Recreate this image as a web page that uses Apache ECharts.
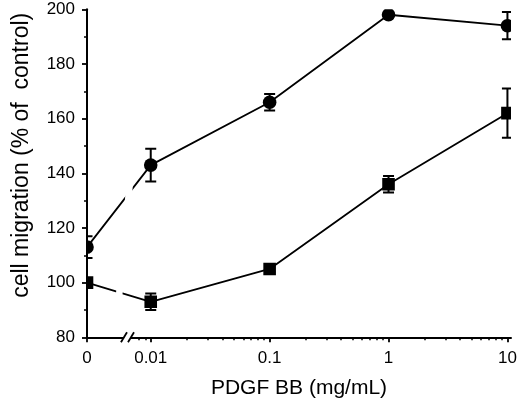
<!DOCTYPE html>
<html><head><meta charset="utf-8">
<script src="https://cdn.jsdelivr.net/npm/echarts@6/dist/echarts.min.js"></script>
<style>html,body{margin:0;padding:0;background:#fff}#c{width:520px;height:404px}</style>
</head><body><div id="c"></div>
<script>
// ---- data ----
const doseLabels = ['0', '0.01', '0.1', '1', '10'];
const doses = [0, 0.01, 0.1, 1, 10];
const circleMean = [113, 143, 166, 198, 194];
const circleErr = [4, 6, 3, 1, 5];
const squareMean = [100, 93, 105, 136, 162];
const squareErr = [1, 3, 1, 3, 9];
const minorDoses = [0.008, 0.009,
  0.02, 0.03, 0.04, 0.05, 0.06, 0.07, 0.08, 0.09,
  0.2, 0.3, 0.4, 0.5, 0.6, 0.7, 0.8, 0.9,
  2, 3, 4, 5, 6, 7, 8, 9];
const yMin = 80, yMax = 200, yStep = 20;

// ---- scale helpers (log axis with the 0 point placed before a break) ----
const ZERO_POS = -0.536;
const X_MAX = 3.03;
function pos(d) { return d === 0 ? ZERO_POS : Math.log10(d) + 2; }

const FONT = 'Liberation Sans, Arial, Helvetica, sans-serif';
const circleData = doses.map((d, i) => [pos(d), circleMean[i], circleErr[i]]);
const squareData = doses.map((d, i) => [pos(d), squareMean[i], squareErr[i]]);

function markerItem(shape) {
  return function (params, api) {
    const p = api.coord([api.value(0), api.value(1)]);
    if (shape === 'circle') {
      return { type: 'circle', shape: { cx: p[0], cy: p[1], r: 6.8 }, style: { fill: '#000' } };
    }
    return { type: 'rect', shape: { x: p[0] - 6.3, y: p[1] - 6.3, width: 12.6, height: 12.6 }, style: { fill: '#000' } };
  };
}
function errItem(params, api) {
  const x = api.value(0), m = api.value(1), e = api.value(2);
  const t = api.coord([x, m + e]), b = api.coord([x, m - e]);
  const c = 5.5, st = { stroke: '#000', lineWidth: 2 };
  return { type: 'group', children: [
    { type: 'line', shape: { x1: t[0], y1: t[1], x2: b[0], y2: b[1] }, style: st },
    { type: 'line', shape: { x1: t[0] - c, y1: t[1], x2: t[0] + c, y2: t[1] }, style: st },
    { type: 'line', shape: { x1: b[0] - c, y1: b[1], x2: b[0] + c, y2: b[1] }, style: st }
  ] };
}
// white slanted band that interrupts the connecting lines at the axis break
function bandItem(params, api) {
  const hi = api.coord([-0.1246, 160]), lo = api.coord([-0.289, 85]);
  const w = 3.3;
  return { type: 'polygon', shape: { points: [[hi[0] - w, hi[1]], [hi[0] + w, hi[1]], [lo[0] + w, lo[1]], [lo[0] - w, lo[1]]] },
    style: { fill: '#fff' } };
}
// axis break marks "//"
function breakItem(params, api) {
  const a = api.coord([-0.225, yMin]), b = api.coord([-0.166, yMin]);
  const st = { stroke: '#000', lineWidth: 1.8 };
  return { type: 'group', children: [
    { type: 'rect', shape: { x: a[0], y: a[1] - 2, width: b[0] - a[0], height: 4 }, style: { fill: '#fff' } },
    { type: 'line', shape: { x1: a[0] - 3, y1: a[1] + 5, x2: a[0] + 3, y2: a[1] - 5 }, style: st },
    { type: 'line', shape: { x1: b[0] - 3, y1: b[1] + 5, x2: b[0] + 3, y2: b[1] - 5 }, style: st }
  ] };
}

const chart = echarts.init(document.getElementById('c'), null, { renderer: 'canvas' });
chart.setOption({
  animation: false,
  backgroundColor: '#fff',
  grid: { left: 87, right: 9, top: 9.3, bottom: 66.7 },
  xAxis: [{
    type: 'value', min: ZERO_POS, max: X_MAX,
    name: 'PDGF BB (mg/mL)', nameLocation: 'middle', nameGap: 40,
    nameTextStyle: { fontFamily: FONT, fontSize: 21, color: '#000' },
    axisLine: { show: true, onZero: false, lineStyle: { color: '#000', width: 2 } },
    axisTick: { show: true, length: 5, lineStyle: { color: '#000', width: 1.8 }, customValues: doses.map(pos) },
    axisLabel: { fontFamily: FONT, fontSize: 17, color: '#000', margin: 13, customValues: doses.map(pos),
      formatter: function (v) { const i = doses.findIndex(d => Math.abs(pos(d) - v) < 1e-6); return i >= 0 ? doseLabels[i] : ''; } },
    splitLine: { show: false }
  }, {
    type: 'value', min: ZERO_POS, max: X_MAX, position: 'bottom',
    axisLine: { show: false, onZero: false },
    axisTick: { show: true, length: 3, lineStyle: { color: '#000', width: 1.5 }, customValues: minorDoses.map(pos) },
    axisLabel: { show: false },
    splitLine: { show: false }
  }],
  yAxis: {
    type: 'value', min: yMin, max: yMax, interval: yStep,
    name: 'cell migration (% of  control)', nameLocation: 'middle', nameGap: 54, nameRotate: 90,
    nameTextStyle: { fontFamily: FONT, fontSize: 23, color: '#000', padding: [0, 0, 0, 36] },
    axisLine: { show: true, onZero: false, lineStyle: { color: '#000', width: 2 } },
    axisTick: { show: true, length: 5, lineStyle: { color: '#000', width: 1.8 } },
    minorTick: { show: true, splitNumber: 2, length: 3, lineStyle: { color: '#000', width: 1.5 } },
    axisLabel: { fontFamily: FONT, fontSize: 17, color: '#000', margin: 12 },
    splitLine: { show: false }
  },
  series: [
    { type: 'line', data: circleData, showSymbol: false, z: 2, lineStyle: { color: '#000', width: 1.8 } },
    { type: 'line', data: squareData, showSymbol: false, z: 2, lineStyle: { color: '#000', width: 1.8 } },
    { type: 'custom', data: [[0, 0]], renderItem: bandItem, z: 3, clip: false, silent: true },
    { type: 'custom', data: circleData, renderItem: markerItem('circle'), z: 4, clip: true },
    { type: 'custom', data: squareData, renderItem: markerItem('rect'), z: 4, clip: true },
    { type: 'custom', data: circleData, renderItem: errItem, z: 5, clip: true },
    { type: 'custom', data: squareData, renderItem: errItem, z: 5, clip: true },
    { type: 'custom', data: [[0, 0]], renderItem: breakItem, z: 6, clip: false, silent: true }
  ]
});
</script>
</body></html>
